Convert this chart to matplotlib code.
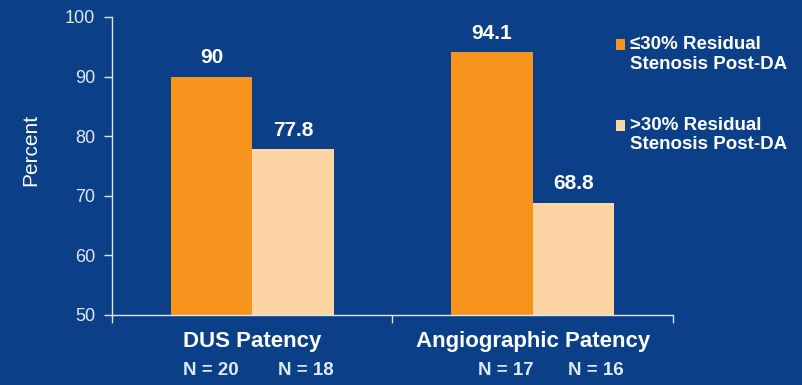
import matplotlib
matplotlib.use("Agg")
import matplotlib.pyplot as plt
import numpy as np
from matplotlib.legend_handler import HandlerPatch
from matplotlib.patches import Patch, Rectangle

categories = ["DUS Patency", "Angiographic Patency"]
low_residual = [90, 94.1]
high_residual = [77.8, 68.8]
n_low = ["N = 20", "N = 17"]
n_high = ["N = 18", "N = 16"]
series_names = ["\u226430% Residual\nStenosis Post-DA", ">30% Residual\nStenosis Post-DA"]

bg = "#0B3F87"
orange = "#F7941D"
peach = "#FDD5A5"
white = "#FFFFFF"

plt.rcParams["font.family"] = ["Liberation Sans", "DejaVu Sans"]

fig = plt.figure(figsize=(8.03, 3.85), dpi=100, facecolor=bg)
ax = fig.add_axes([0.1395, 0.182, 0.6985, 0.774], facecolor=bg)

x = np.arange(len(categories))
w = 0.29
b1 = ax.bar(x - w / 2, np.array(low_residual) - 50, w, bottom=50, color=orange,
            label=series_names[0])
b2 = ax.bar(x + w / 2, np.array(high_residual) - 50, w, bottom=50, color=peach,
            label=series_names[1])

# value labels above each bar
for xs, vals in [(x - w / 2, low_residual), (x + w / 2, high_residual)]:
    for xi, v in zip(xs, vals):
        ax.text(xi, v + 1.6, f"{v:g}", ha="center", va="bottom", color=white,
                fontsize=15, fontweight="bold")

ax.set_ylim(50, 100)
ax.set_xlim(-0.5, 1.5)
ax.set_yticks([50, 60, 70, 80, 90, 100])
ax.set_xticks([-0.5, 0.5, 1.5])
ax.set_xticklabels([])
ax.tick_params(axis="both", colors="#DDE6F2", direction="out", length=6, width=1,
               labelsize=13, labelcolor="#E3E9F3", pad=6)
for s in ["top", "right"]:
    ax.spines[s].set_visible(False)
for s in ["left", "bottom"]:
    ax.spines[s].set_color("#DDE6F2")
    ax.spines[s].set_linewidth(1)

ax.set_ylabel("Percent", color=white, fontsize=15)
ax.yaxis.set_label_coords(-0.128, 0.554)

trans = ax.get_xaxis_transform()
for xi, name in zip(x, categories):
    ax.text(xi, -0.09, name, transform=trans, ha="center", va="center",
            color=white, fontsize=16, fontweight="bold")

# sample sizes under each group
n_shift_low = [-0.148, -0.096]
n_shift_high = [0.191, 0.225]
for xi, lo, hi, dl, dh in zip(x, n_low, n_high, n_shift_low, n_shift_high):
    ax.text(xi + dl, -0.185, lo, transform=trans, ha="center", va="center",
            color="#DCEBFA", fontsize=13.5, fontweight="bold")
    ax.text(xi + dh, -0.185, hi, transform=trans, ha="center", va="center",
            color="#DCEBFA", fontsize=13.5, fontweight="bold")


# legend square sits beside the first line of the two-line label
def top_square(legend, orig_handle, xdescent, ydescent, width, height, fontsize):
    return Rectangle((-xdescent, -ydescent + 0.5 * fontsize), width, height)


leg = fig.legend(handles=[b1.patches[0], b2.patches[0]], labels=series_names,
                 loc="upper left",
                 bbox_to_anchor=(616 / 803, 1 - 36 / 385),
                 frameon=False, handlelength=0.5, handleheight=0.5,
                 handletextpad=0.25, labelspacing=2.35, labelcolor=white,
                 borderpad=0, borderaxespad=0,
                 handler_map={Patch: HandlerPatch(patch_func=top_square)},
                 prop={"weight": "bold", "size": 13.5})

fig.savefig("out.png", dpi=100, facecolor=bg)
